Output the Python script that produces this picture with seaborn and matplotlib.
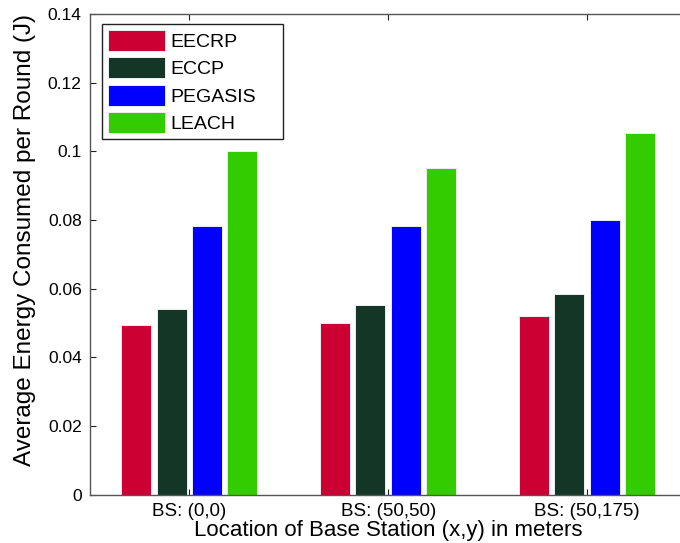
import pandas as pd
import numpy as np
from matplotlib import pyplot as plt
from matplotlib.ticker import FuncFormatter
import seaborn as sns

# values
locations = ['BS: (0,0)', 'BS: (50,50)', 'BS: (50,175)']
protocols = ['EECRP', 'ECCP', 'PEGASIS', 'LEACH']
eecrp = [0.0494, 0.0500, 0.0521]
eccp = [0.0542, 0.0553, 0.0584]
pegasis = [0.0782, 0.0782, 0.0800]
leach = [0.1000, 0.0952, 0.1052]
colors = ['#CC0033', '#133626', '#0000FF', '#33CC00']

rows = []
for name, vals in zip(protocols, [eecrp, eccp, pegasis, leach]):
	for loc, v in zip(locations, vals):
		rows.append({'Location': loc, 'Protocol': name, 'Energy': v})
df = pd.DataFrame(rows)

sns.set_style('white')
plt.rcParams['font.family'] = ['Liberation Sans', 'DejaVu Sans']
plt.rcParams['text.color'] = 'black'
plt.rcParams['axes.labelcolor'] = 'black'
plt.rcParams['xtick.color'] = 'black'
plt.rcParams['ytick.color'] = 'black'

fig = plt.figure(figsize = (6.8, 5.43), dpi = 100)
ax = fig.add_axes([90 / 680, 48.3 / 543, 596.3 / 680, 480.7 / 543])

sns.barplot(data = df, x = 'Location', y = 'Energy', hue = 'Protocol',
	order = locations, hue_order = protocols, palette = colors,
	width = 0.712, gap = 0.15, edgecolor = '#eeeeee', linewidth = 0.7,
	saturation = 1, ax = ax)

ax.set_xlim(-0.5, 2.5)
ax.set_ylim(0, 0.14)
ax.set_yticks(np.arange(0, 0.141, 0.02))
ax.yaxis.set_major_formatter(FuncFormatter(lambda v, p: '%g' % round(v, 2)))

for s in ax.spines.values():
	s.set_visible(True)
	s.set_color('#555555')
	s.set_linewidth(1.0)
ax.tick_params(direction = 'in', length = 4, width = 0.8, color = '#222222',
	top = True, right = True, bottom = True, left = True)
ax.tick_params(axis = 'y', labelsize = 12.5, pad = 6, labelcolor = 'black')
ax.tick_params(axis = 'x', labelsize = 13.5, pad = 6, labelcolor = 'black')

ax.set_xlabel('Location of Base Station (x,y) in meters', fontsize = 16, labelpad = 0, color = 'black')
ax.set_ylabel('Average Energy Consumed per Round (J)', fontsize = 17.5, color = 'black')
ax.yaxis.set_label_coords(-0.09, 0.53)

leg = ax.legend(loc = 'upper left', bbox_to_anchor = (0.0198, 0.5, 0.304, 0.479),
	mode = 'expand', fontsize = 14, handlelength = 2.93, handleheight = 1.285,
	handletextpad = 0.32, labelspacing = 0.324, borderpad = 0.3, borderaxespad = 0,
	fancybox = False, framealpha = 1, edgecolor = '#222222')
leg.get_frame().set_linewidth(1.0)
leg.set_title(None)
for t in leg.get_texts():
	t.set_color('black')

fig.savefig('out.png', dpi = 100)
